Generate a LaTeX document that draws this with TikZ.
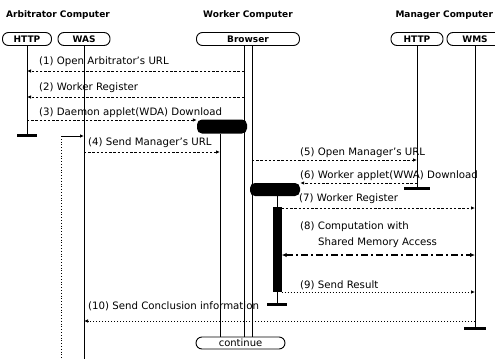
\documentclass[tikz,border=0pt]{standalone}
\usepackage{fontspec}
\setmainfont{DejaVu Sans}
\usetikzlibrary{arrows.meta}

\tikzset{
  obj/.style={draw, line width=0.9pt, rounded corners=6pt, minimum height=13pt, inner sep=0pt, font=\bfseries\fontsize{9}{10}\selectfont},
  title/.style={font=\bfseries\fontsize{9}{10}\selectfont},
  life/.style={line width=0.8pt},
  msg/.style={line width=0.8pt, dash pattern=on 2.4pt off 1.8pt, -{Latex[length=4pt,width=3.5pt]}},
  fine/.style={line width=0.7pt, dash pattern=on 1.3pt off 1.7pt, -{Latex[length=4pt,width=3.5pt]}},
  share/.style={line width=1.4pt, dash pattern=on 7pt off 3pt on 2pt off 3pt, {Latex[length=5pt,width=4.5pt]}-{Latex[length=5pt,width=4.5pt]}},
  lbl/.style={anchor=west, inner sep=0pt, font=\fontsize{10.2}{16}\selectfont},
  blob/.style={fill=black, rounded corners=5pt, inner sep=0pt},
  stopbar/.style={line width=3pt},
}

\begin{document}
\begin{tikzpicture}[x=1pt, y=-1pt]
\useasboundingbox (0,0) rectangle (495,359);

% computers
\node[title] at (58,15) {Arbitrator Computer};
\node[title] at (248,15) {Worker Computer};
\node[title, anchor=west] at (392,15) {Manager Computer};

% objects
\node[obj, minimum width=49pt] (ahttp) at (27,39) {HTTP};
\node[obj, minimum width=52pt] (was) at (84,39) {WAS};
\node[obj, minimum width=103pt] (browser) at (248,39) {Browser};
\node[obj, minimum width=52pt] (mhttp) at (417,39) {HTTP};
\node[obj, minimum width=56pt] (wms) at (475,39) {WMS};
\node[obj, minimum width=89pt, minimum height=12pt, font=\fontsize{10}{12}\selectfont] (cont) at (240.5,343) {continue};

% applets
\node[blob, minimum width=50pt, minimum height=14pt] (wda) at (222,126.5) {};
\node[blob, minimum width=50pt, minimum height=13pt] (wwa) at (275,189.5) {};
\node[fill=black, inner sep=0pt, minimum width=9pt, minimum height=85pt] (act) at (277,249.5) {};

\coordinate (bL) at ([xshift=-4pt]browser.south);
\coordinate (bR) at ([xshift=4pt]browser.south);
\coordinate (bA) at ([xshift=-2pt]wda.south);
\coordinate (loop) at (61,136);

% message levels
\path (0,71) coordinate (y1) (0,97) coordinate (y2) (0,120) coordinate (y3)
      (0,152) coordinate (y4) (0,160) coordinate (y5) (0,183) coordinate (y6)
      (0,208) coordinate (y7) (0,255) coordinate (y8) (0,292) coordinate (y9)
      (0,321) coordinate (y10);

% lifelines
\draw[life] (ahttp.south) -- (ahttp |- 0,135);
\draw[stopbar] ([xshift=-10pt]ahttp |- 0,135) -- ([xshift=10pt]ahttp |- 0,135);
\draw[life] (was.south) -- (was |- 0,359);
\draw[life, dotted] (loop) -- (loop |- 0,359);
\draw[life, -{Latex[length=4pt,width=3.5pt]}] (loop) -- (was |- loop);
\draw[life] (bL) -- (bL |- cont.north);
\draw[life] (bR) -- (bR |- cont.north);
\draw[life] (bA) -- (bA |- cont.north);
\draw[life] (mhttp.south) -- (mhttp |- 0,188);
\draw[stopbar] ([xshift=-13pt]mhttp |- 0,188) -- ([xshift=13pt]mhttp |- 0,188);
\draw[life] (wms.south) -- (wms |- 0,328);
\draw[stopbar] ([xshift=-11pt]wms |- 0,328) -- ([xshift=11pt]wms |- 0,328);
\draw[life] (wwa.south -| act) -- (act.north);
\draw[life] (act.south) -- (act |- 0,304);
\draw[stopbar] ([xshift=-10pt]act |- 0,304) -- ([xshift=10pt]act |- 0,304);

% messages
\draw[msg] (bL |- y1) -- (ahttp |- y1);
\draw[msg] (bL |- y2) -- (ahttp |- y2);
\draw[msg] (ahttp |- y3) -- (wda.west |- y3);
\draw[msg] (was |- y4) -- (bA |- y4);
\draw[msg] (bR |- y5) -- (mhttp |- y5);
\draw[msg] (mhttp |- y6) -- (wwa.east |- y6);
\draw[msg] (act.east |- y7) -- (wms |- y7);
\draw[share] (act.east |- y8) -- (wms |- y8);
\draw[fine] (act.east |- y9) -- (wms |- y9);
\draw[fine] (wms |- y10) -- (was |- y10);

% labels
\node[lbl] at (39,62) {(1) Open Arbitrator's URL};
\node[lbl] at (39,88) {(2) Worker Register};
\node[lbl] at (39,113) {(3) Daemon applet(WDA) Download};
\node[lbl] at (88,143) {(4) Send Manager's URL};
\node[lbl] at (300,153) {(5) Open Manager's URL};
\node[lbl] at (300,176) {(6) Worker applet(WWA) Download};
\node[lbl] at (299,199) {(7) Worker Register};
\node[lbl, align=left] at (300,235) {(8) Computation with\\\hspace*{18pt}Shared Memory Access};
\node[lbl] at (300,285) {(9) Send Result};
\node[lbl] at (88,306) {(10) Send Conclusion information};
\end{tikzpicture}
\end{document}
